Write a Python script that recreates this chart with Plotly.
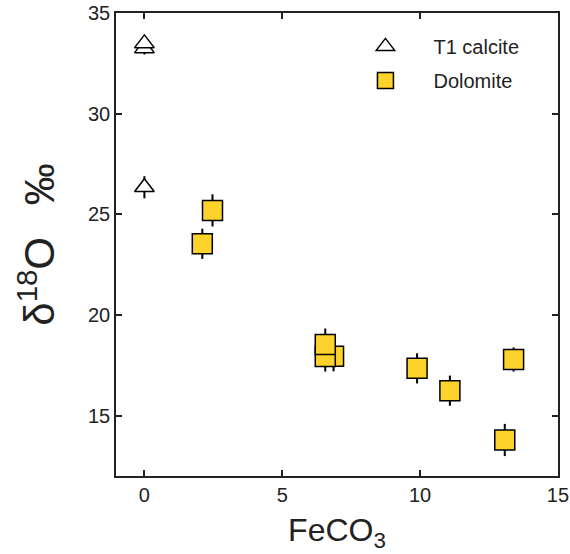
import plotly.graph_objects as go

# T1 calcite
calc_x = [0.0, 0.0, 0.0]
calc_y = [33.25, 33.5, 26.35]
calc_err = [0.3, 0.3, 0.55]

# Dolomite
dol_x = [2.47, 2.10, 6.86, 6.56, 6.56, 9.89, 11.08, 13.07, 13.39]
dol_y = [25.2, 23.54, 17.95, 17.94, 18.53, 17.35, 16.24, 13.79, 17.79]
dol_err = [0.8, 0.75, 0.75, 0.75, 0.8, 0.75, 0.75, 0.8, 0.6]

x_ticks = [0, 5, 10, 15]
y_ticks = [15, 20, 25, 30, 35]

FONT = "Liberation Sans, Arial, sans-serif"

fig = go.Figure()
fig.add_trace(go.Scatter(
    x=calc_x, y=calc_y, mode="markers", name="T1 calcite", legendgroup="a",
    marker=dict(symbol="triangle-up", size=17, color="white",
                line=dict(color="black", width=1.5)),
    error_y=dict(type="data", array=calc_err, color="black", thickness=2, width=0),
))
fig.add_trace(go.Scatter(
    x=dol_x, y=dol_y, mode="markers", name="Dolomite", legendgroup="b",
    marker=dict(symbol="square", size=20, color="#FDD22B",
                line=dict(color="black", width=1.5)),
    error_y=dict(type="data", array=dol_err, color="black", thickness=2, width=0),
))

axis_common = dict(
    showline=True, linecolor="#222222", linewidth=1.5, mirror="ticks",
    ticks="inside", ticklen=6, tickwidth=1.5, tickcolor="#222222",
    showgrid=False, zeroline=False, automargin=False,
    tickfont=dict(family=FONT, size=20, color="#222222"),
)

fig.update_layout(
    width=570, height=554,
    margin=dict(l=116, r=12, t=13, b=78),
    paper_bgcolor="white", plot_bgcolor="white",
    font=dict(family=FONT, color="#222222"),
    xaxis=dict(range=[-1.03, 15.001], tickvals=x_ticks,
               title=dict(text="FeCO<sub>3</sub>", font=dict(family=FONT, size=32), standoff=14),
               **axis_common),
    yaxis=dict(range=[12, 35.01], tickvals=y_ticks,
               title=dict(text="δ<sup>18</sup>O  \u2009‰", font=dict(family=FONT, size=42), standoff=20),
               **axis_common),
    legend=dict(x=0.501, y=0.970, xanchor="left", yanchor="top",
                font=dict(family=FONT, size=20, color="#222222"),
                bgcolor="rgba(0,0,0,0)", itemwidth=86,
                traceorder="grouped", tracegroupgap=5),
    showlegend=True,
)

fig.write_html("out.html")
